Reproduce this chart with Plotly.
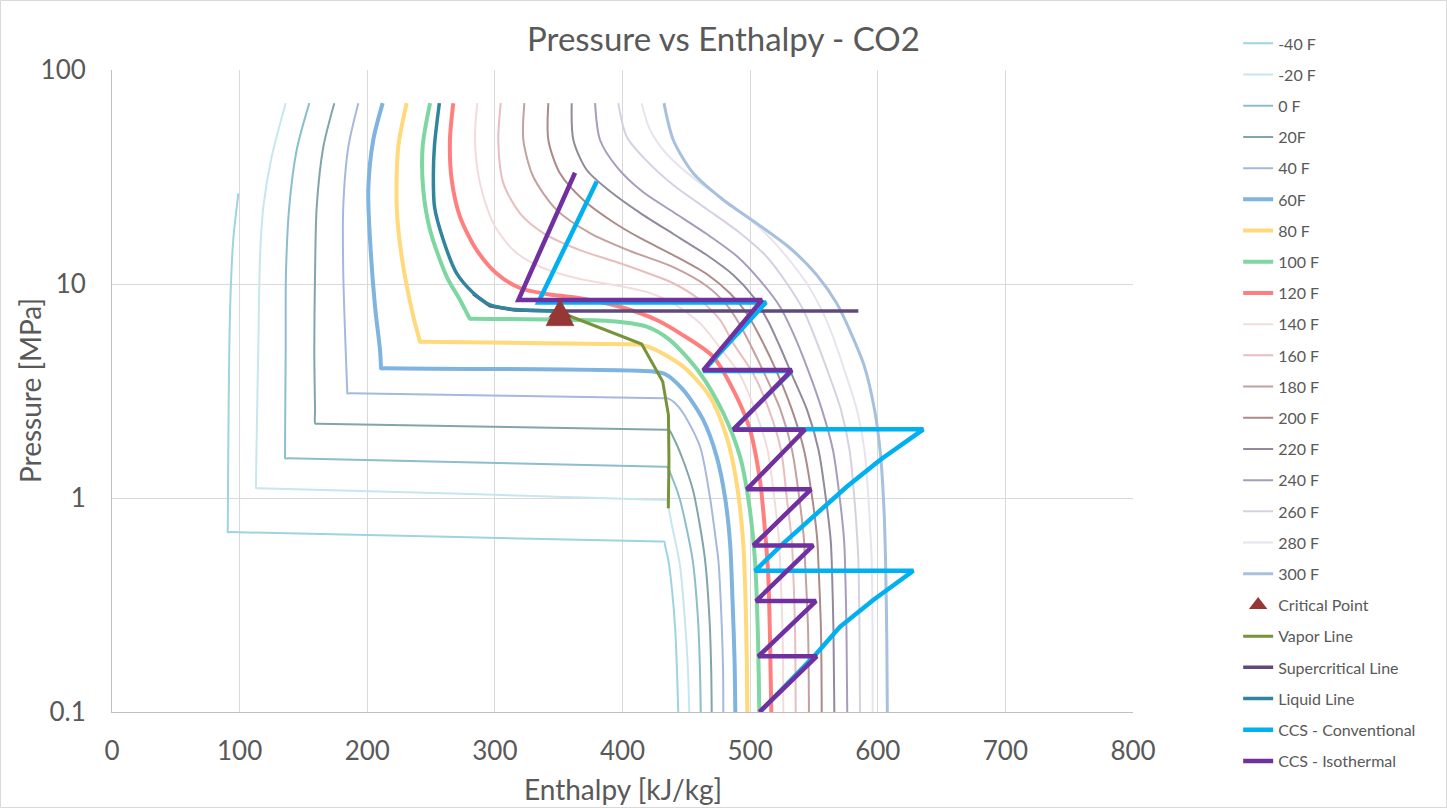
import plotly.graph_objects as go

# ---------------- isotherm data: enthalpy [kJ/kg] and pressure [MPa] ----------------
h_m40 = [99.0, 95.0, 93.0, 91.9, 91.1, 90.7, 90.7, 93.2, 430.2, 432.9, 433.3, 435.9, 438.8, 441.2, 442.7, 443.7]
p_m40 = [26.5, 16.06, 9.38, 4.92, 1.68, 0.716, 0.694, 0.693, 0.626, 0.625, 0.603, 0.513, 0.372, 0.250, 0.157, 0.1]

h_m20 = [136.1, 125.1, 118.6, 116.0, 114.6, 113.2, 112.8, 112.8, 115.2, 432.5, 434.9, 435.6, 439.5, 445.0, 448.9, 451.3, 452.3]
p_m20 = [70, 39.3, 22.97, 13.4, 4.92, 1.68, 1.15, 1.113, 1.112, 0.979, 0.976, 0.927, 0.709, 0.486, 0.269, 0.157, 0.1]

h_0 = [154.6, 144.7, 138.9, 136.3, 136.1, 135.7, 135.6, 135.6, 137.9, 432.5, 434.9, 439.6, 445.1, 450.5, 455.0, 459.2, 460.7, 461.3]
p_0 = [70, 42.3, 22.97, 11.2, 4.92, 2.31, 1.588, 1.533, 1.532, 1.399, 1.397, 1.214, 0.979, 0.709, 0.513, 0.269, 0.157, 0.1]

h_20 = [174.2, 165.6, 160.4, 159.1, 158.5, 159.1, 159.3, 161.4, 433.9, 436.4, 440.8, 447.4, 455.2, 459.9, 464.7, 468.2, 469.5, 469.9]
p_20 = [70, 43.8, 22.97, 11.2, 4.92, 2.58, 2.225, 2.224, 2.083, 2.08, 1.866, 1.505, 1.090, 0.789, 0.513, 0.269, 0.157, 0.1]

h_40 = [193.0, 185.2, 181.2, 181.2, 183.1, 184.3, 184.4, 186.5, 432.5, 435.6, 441.1, 447.6, 460.7, 468.5, 473.8, 475.1, 477.6, 478.8, 479.0]
p_40 = [70, 43.8, 22.97, 11.2, 4.92, 3.187, 3.085, 3.083, 2.924, 2.92, 2.78, 2.49, 1.74, 1.01, 0.592, 0.513, 0.269, 0.157, 0.1]

h_60 = [212.1, 204.7, 200.8, 202.2, 206.1, 210.0, 210.7, 210.8, 213.1, 423.9, 433.3, 447.6, 463.3, 473.8, 480.3, 484.3, 486.2, 487.8, 488.4]
p_60 = [70, 47.1, 27.5, 16.06, 7.83, 4.92, 4.17, 4.04, 4.035, 3.90, 3.80, 3.20, 2.31, 1.56, 1.01, 0.614, 0.334, 0.175, 0.1]

h_80 = [230.9, 224.3, 223.1, 227.0, 236.1, 240.7, 241.3, 243.7, 402.0, 415.0, 425.5, 447.6, 468.6, 481.6, 489.5, 494.6, 496.4, 497.4, 497.8]
p_80 = [70, 43.8, 22.97, 13.4, 7.04, 5.55, 5.375, 5.37, 5.23, 5.19, 4.94, 4.11, 2.97, 1.93, 1.171, 0.614, 0.334, 0.175, 0.1]

h_100 = [249.2, 243.4, 243.9, 249.2, 262.3, 272.7, 279.2, 280.5, 282.9, 382.4, 398.0, 419.0, 437.2, 460.7, 479.0, 492.1, 499.1, 503.8, 506.0, 507.2]
p_100 = [70, 43.8, 27.5, 17.9, 10.8, 8.42, 7.09, 6.88, 6.88, 6.75, 6.645, 6.32, 5.47, 3.83, 2.49, 1.56, 0.944, 0.513, 0.2416, 0.1]

h_120 = [267.4, 264.8, 266.2, 272.7, 285.8, 301.4, 319.7, 340.6, 366.7, 398.0, 426.8, 445.1, 471.1, 489.5, 499.9, 507.7, 511.6, 514.2, 515.6, 516.6]
p_120 = [70, 47.1, 30.6, 20.6, 14.4, 11.2, 9.58, 8.98, 8.58, 7.83, 6.79, 5.88, 4.57, 2.97, 2.08, 1.21, 0.709, 0.437, 0.217, 0.1]

h_140 = [286.2, 284.4, 288.3, 298.8, 314.4, 335.4, 366.7, 398.0, 421.6, 439.8, 460.7, 473.8, 492.1, 503.8, 513.6, 519.1, 522.6, 523.4, 525.4, 526.0]
p_140 = [70, 47.1, 29.6, 19.2, 14.4, 12.04, 10.55, 9.79, 9.08, 8.12, 6.55, 5.28, 3.76, 2.58, 1.676, 0.979, 0.637, 0.513, 0.2416, 0.1]

h_160 = [304.6, 302.7, 306.6, 319.7, 338.0, 366.7, 392.8, 413.7, 439.8, 460.7, 476.4, 486.8, 503.0, 514.8, 524.2, 528.9, 532.6, 533.4, 535.2, 535.7]
p_160 = [70, 47.1, 29.6, 21.4, 17.3, 14.4, 12.81, 11.6, 10.08, 8.42, 6.79, 5.28, 3.76, 2.58, 1.676, 0.979, 0.637, 0.513, 0.2416, 0.1]

h_180 = [323.1, 322.3, 330.1, 348.4, 374.5, 405.9, 439.8, 466.0, 481.6, 492.1, 501.5, 511.7, 523.8, 532.8, 538.7, 542.2, 543.0, 545.4, 546.1]
p_180 = [70, 47.1, 31.7, 22.2, 17.3, 14.27, 12.0, 9.79, 7.98, 6.43, 5.02, 3.76, 2.58, 1.676, 0.979, 0.637, 0.513, 0.2416, 0.1]

h_200 = [341.9, 341.9, 351.0, 369.3, 392.6, 413.7, 439.8, 466.0, 484.2, 497.3, 507.7, 520.3, 532.8, 542.2, 548.9, 552.6, 553.4, 555.5, 556.1]
p_200 = [70, 47.1, 32.9, 24.7, 19.49, 16.41, 13.66, 11.14, 9.05, 7.30, 5.67, 3.96, 2.58, 1.676, 0.979, 0.637, 0.513, 0.2416, 0.1]

h_220 = [360.2, 361.5, 372.0, 391.0, 413.7, 439.8, 466.0, 486.8, 502.5, 514.0, 523.4, 532.8, 544.6, 553.6, 559.5, 563.1, 563.9, 565.3, 566.0]
p_220 = [70, 47.1, 34.1, 26.9, 21.5, 17.13, 13.66, 11.02, 8.72, 6.72, 5.09, 3.76, 2.58, 1.676, 0.979, 0.637, 0.513, 0.2416, 0.1]

h_240 = [378.5, 382.4, 395.5, 416.1, 439.8, 466.0, 489.5, 507.7, 523.4, 533.8, 545.4, 556.3, 564.9, 570.4, 573.6, 574.3, 575.5, 576.1]
p_240 = [70, 47.1, 35.3, 26.9, 21.7, 17.13, 13.51, 10.4, 7.83, 5.88, 3.96, 2.58, 1.676, 0.979, 0.637, 0.513, 0.2416, 0.1]

h_260 = [396.7, 403.3, 419.0, 439.8, 466.0, 492.1, 513.0, 528.7, 541.7, 551.6, 561.8, 571.2, 577.9, 581.8, 584.0, 584.8, 585.7, 586.1]
p_260 = [70, 48.8, 37.6, 29.0, 22.4, 17.3, 13.4, 10.08, 7.56, 5.47, 3.76, 2.58, 1.676, 0.979, 0.637, 0.513, 0.2416, 0.1]

h_280 = [415.0, 421.6, 434.6, 455.5, 481.6, 507.7, 528.7, 544.3, 556.1, 564.9, 575.1, 583.7, 589.6, 592.8, 594.5, 595.3, 595.9, 596.0]
p_280 = [70, 52.4, 40.5, 31.3, 24.2, 18.27, 13.4, 10.08, 7.56, 5.67, 3.76, 2.58, 1.676, 0.979, 0.637, 0.513, 0.2416, 0.1]

h_300 = [432.5, 439.8, 455.5, 479.0, 505.2, 531.2, 552.2, 567.8, 579.0, 589.2, 597.5, 602.2, 604.9, 606.1, 607.1, 607.5]
p_300 = [70, 47.1, 32.9, 24.7, 19.2, 14.73, 11.02, 8.12, 5.90, 4.18, 2.58, 1.588, 0.879, 0.513, 0.217, 0.1]

# ---------------- saturation dome and critical point ----------------
crit_h = [351.0]
crit_p = [7.38]

vapor_h = [351.0, 415.0, 431.5, 436.0, 436.4, 435.9]
vapor_p = [7.38, 5.24, 3.50, 2.44, 1.505, 0.895]

super_h = [283.1, 296.2, 315.8, 351.0, 584.8]
super_p = [9.0, 7.9, 7.55, 7.48, 7.48]

liquid_h = [256.5, 252.7, 251.8, 252.7, 259.6, 270.1, 283.1, 296.2, 315.8, 351.0]
liquid_p = [70, 44.6, 32.3, 22.97, 16.06, 11.2, 9.08, 7.98, 7.60, 7.48]

# ---------------- compression paths ----------------
conv_h = [507.7, 552.2, 570.4, 596.5, 627.9, 503.8, 526.0, 549.5, 575.7, 601.8, 635.7,
          486.8, 532.6, 463.3, 512.4, 334.0, 379.8]
conv_p = [0.1, 0.188, 0.250, 0.334, 0.457, 0.457, 0.614, 0.818, 1.129, 1.505, 2.094,
          2.094, 3.92, 3.92, 8.20, 8.20, 30.1]

iso_h = [507.2, 552.2, 506.4, 551.6, 504.6, 549.5, 502.5, 547.7, 497.3, 543.0, 486.8,
         532.6, 463.3, 509.3, 318.4, 362.8]
iso_p = [0.1, 0.182, 0.182, 0.330, 0.330, 0.600, 0.600, 1.098, 1.098, 2.083, 2.083,
         3.96, 3.96, 8.42, 8.42, 33.1]

isotherm_names = ["-40 F", "-20 F", "0 F", "20F", "40 F", "60F", "80 F", "100 F", "120 F",
                  "140 F", "160 F", "180 F", "200 F", "220 F", "240 F", "260 F", "280 F", "300 F"]
isotherm_h = [h_m40, h_m20, h_0, h_20, h_40, h_60, h_80, h_100, h_120,
              h_140, h_160, h_180, h_200, h_220, h_240, h_260, h_280, h_300]
isotherm_p = [p_m40, p_m20, p_0, p_20, p_40, p_60, p_80, p_100, p_120,
              p_140, p_160, p_180, p_200, p_220, p_240, p_260, p_280, p_300]
isotherm_colors = ["#9ED3E1", "#C8E6EE", "#8CBECD", "#82A5AA", "#A5B9DC", "#7EB4DF",
                   "#FFD97A", "#7ED7A1", "#FF7F7F", "#F2DCDB", "#E7BEBD", "#C4A09E",
                   "#AC8A88", "#928A9C", "#A89CBD", "#D7D0E3", "#E8E3EF", "#A6C0DE"]
isotherm_widths = [2, 2, 2, 2, 2, 4, 4, 4, 4, 2, 2, 2, 2, 2, 2, 2, 2, 3]

FONT = "Lato, 'Open Sans', sans-serif"
GREY = "#595959"
CRIT_COLOR = "#953735"

fig = go.Figure()
rank = 1
for name, hs, ps, col, w in zip(isotherm_names, isotherm_h, isotherm_p, isotherm_colors, isotherm_widths):
    fig.add_trace(go.Scatter(x=hs, y=ps, mode="lines", name=name, legendgroup=name, legendrank=rank,
                             line=dict(color=col, width=w, shape="spline", smoothing=0.8)))
    rank += 1

fig.add_trace(go.Scatter(x=vapor_h, y=vapor_p, mode="lines", name="Vapor Line", legendgroup="vap",
                         legendrank=rank + 1, line=dict(color="#77933C", width=3)))
fig.add_trace(go.Scatter(x=super_h, y=super_p, mode="lines", name="Supercritical Line", legendgroup="sup",
                         legendrank=rank + 2, line=dict(color="#604A7B", width=3.5)))
fig.add_trace(go.Scatter(x=liquid_h, y=liquid_p, mode="lines", name="Liquid Line", legendgroup="liq",
                         legendrank=rank + 3, line=dict(color="#31859C", width=3.5, shape="spline", smoothing=0.8)))
fig.add_trace(go.Scatter(x=crit_h, y=crit_p, mode="markers", name="Critical Point", legendgroup="crit",
                         legendrank=rank,
                         marker=dict(symbol="triangle-up", size=20, color=CRIT_COLOR)))
fig.add_trace(go.Scatter(x=conv_h, y=conv_p, mode="lines", name="CCS - Conventional", legendgroup="conv",
                         legendrank=rank + 4, line=dict(color="#00B0F0", width=4.5)))
fig.add_trace(go.Scatter(x=iso_h, y=iso_p, mode="lines", name="CCS - Isothermal", legendgroup="isoth",
                         legendrank=rank + 5, line=dict(color="#7030A0", width=4.5)))

# pixel-sized triangle anchored on the critical point (taller than the built-in symbol)
crit_shape = dict(type="path", xref="x", yref="y", xsizemode="pixel", ysizemode="pixel",
                  xanchor=crit_h[0], yanchor=crit_p[0],
                  path="M -14,-13.5 L 14,-13.5 L 0,13.5 Z",
                  fillcolor=CRIT_COLOR, line=dict(color=CRIT_COLOR, width=0.5), layer="above")

frame = dict(type="rect", xref="paper", yref="paper",
             x0=-111.5 / 1021, x1=1334.5 / 1021, y0=-95.5 / 642, y1=711.5 / 642,
             line=dict(color="#D9D9D9", width=1), fillcolor="rgba(0,0,0,0)", layer="below")

fig.update_layout(
    width=1447, height=808,
    margin=dict(l=112, r=314, t=70, b=96),
    paper_bgcolor="white", plot_bgcolor="white",
    font=dict(family=FONT, color=GREY),
    title=dict(text="Pressure vs Enthalpy - CO2", x=0.5, xref="container", xanchor="center",
               y=1 - 39 / 808, yref="container", yanchor="middle",
               font=dict(size=33, color=GREY, family=FONT)),
    legend=dict(x=1.103, xanchor="left", y=1.0678, yanchor="top", font=dict(size=16, color=GREY),
                tracegroupgap=7.4, bgcolor="rgba(0,0,0,0)", maxheight=790),
    annotations=[
        dict(text="Enthalpy [kJ/kg]", xref="paper", yref="paper", x=0.5, y=(712 - 789) / 642,
             xanchor="center", yanchor="middle", showarrow=False, font=dict(size=28, color=GREY)),
        dict(text="Pressure [MPa]", xref="paper", yref="paper", x=(30 - 112) / 1021, y=0.5,
             xanchor="center", yanchor="middle", textangle=-90, showarrow=False,
             font=dict(size=28, color=GREY)),
    ],
    shapes=[frame, crit_shape],
)
fig.update_xaxes(range=[0, 800], dtick=100, tick0=0, showgrid=True, gridcolor="#D9D9D9", gridwidth=1,
                 zeroline=False, showline=True, linecolor="#BFBFBF", linewidth=1,
                 ticks="outside", ticklen=16, tickcolor="rgba(0,0,0,0)",
                 tickfont=dict(size=26, color=GREY))
fig.update_yaxes(type="log", range=[-1, 2], tickvals=[0.1, 1, 10, 100], ticktext=["0.1", "1", "10", "100"],
                 showgrid=True, gridcolor="#D9D9D9", gridwidth=1, zeroline=False,
                 showline=True, linecolor="#BFBFBF", linewidth=1,
                 ticks="outside", ticklen=20, tickcolor="rgba(0,0,0,0)",
                 tickfont=dict(size=26, color=GREY))

fig.write_html("out.html")
